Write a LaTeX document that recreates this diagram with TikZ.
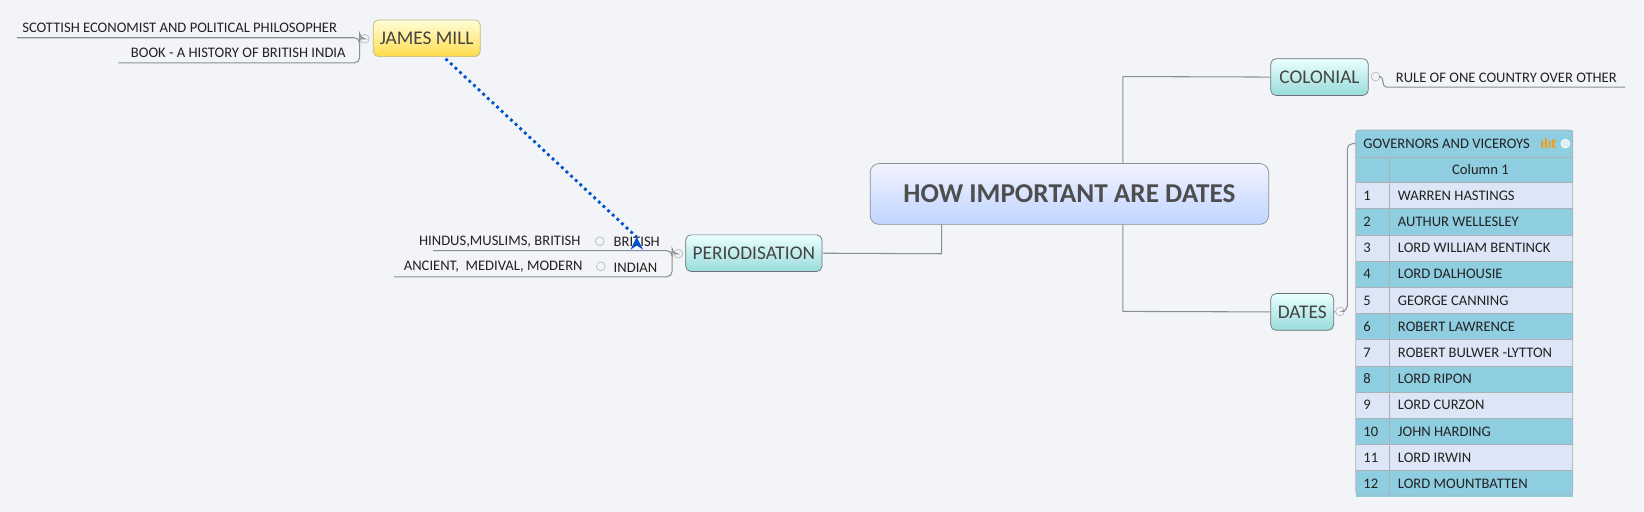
\documentclass[tikz,border=0pt]{standalone}
\usepackage{fontspec}
\setmainfont{Carlito}
\usetikzlibrary{arrows.meta}
\definecolor{bg}{HTML}{F2F4F7}
\definecolor{ln}{HTML}{8A8F95}
\definecolor{tx}{HTML}{222222}
\definecolor{rowa}{HTML}{DDE6F6}
\definecolor{rowb}{HTML}{8FCDE0}
\begin{document}
\begin{tikzpicture}[x=0.02097cm,y=-0.02097cm,
  topic/.style={draw=ln!80!black,rounded corners=3pt,inner sep=0pt,font=\fontsize{11}{12}\selectfont,text=tx!85},
  blue/.style={topic,top color=cyan!8!white,bottom color=cyan!30!teal!40!white},
  sm/.style={font=\fontsize{8.3}{9}\selectfont,text=tx,inner sep=0pt},
  con/.style={draw=ln,line width=0.6pt},
  dot/.style={draw=ln!60,fill=bg,line width=0.4pt,circle,inner sep=0pt,minimum size=5pt}]
\fill[bg] (0,0) rectangle (1568,488);
\useasboundingbox (0,0) rectangle (1568,488);
% central
\node[topic,top color=blue!5!white,bottom color=cyan!35!blue!25!white,draw=ln,rounded corners=5pt,minimum width=380*0.02097cm,minimum height=58*0.02097cm,font=\fontsize{15.5}{17}\bfseries\selectfont,text=tx!80] (c) at (1020,185) {HOW IMPORTANT ARE DATES};
% colonial
\node[blue,minimum width=93*0.02097cm,minimum height=35*0.02097cm] (col) at (1258.5,73.5) {COLONIAL};
\draw[con] (1071,156) -- (1071,73) -- (col.west);
\node[dot] (d1) at (1312,73) {};
\node[sm,anchor=south west] (rule) at (1331,79) {RULE OF ONE COUNTRY OVER OTHER};
\draw[con] (d1) -- (1316,73) to[out=0,in=180] (1322,83) -- (1550,83);
% dates
\node[blue,minimum width=60*0.02097cm,minimum height=35*0.02097cm] (dat) at (1242,297.5) {DATES};
\draw[con] (1071,214) -- (1071,297) -- (dat.west);
\node[dot] (d2) at (1278,297) {};
\draw[con] (dat.east) -- (d2);
\draw[con,rounded corners=3pt] (d2) -- (1285,297) -- (1285,137) -- (1293,137);
% table
\fill[rowb] (1293,124) rectangle (1500,150);
\draw[draw=ln!70,rounded corners=2pt,fill=rowb] (1293,150) -- (1293,124) -- (1500,124) -- (1500,150);
\node[sm,anchor=west] (th) at (1300,137) {GOVERNORS AND VICEROYS};
\node[sm,text=orange!80!yellow,anchor=west] (ic) at (1469,137) {\bfseries ılıt};
\node[dot,draw=white,fill=white!70!rowb] (d3) at (1493,137) {};
\fill[rowb] (1293,150) rectangle (1500,174);
\node[sm] (col1) at (1412,162) {Column 1};
\foreach \i/\t in {1/WARREN HASTINGS,2/AUTHUR WELLESLEY,3/LORD WILLIAM BENTINCK,4/LORD DALHOUSIE,5/GEORGE CANNING,6/ROBERT LAWRENCE,7/ROBERT BULWER -LYTTON,8/LORD RIPON,9/LORD CURZON,10/JOHN HARDING,11/LORD IRWIN,12/LORD MOUNTBATTEN}{
  \pgfmathsetmacro\yy{174+25*(\i-1)}
  \pgfmathtruncatemacro\od{mod(\i,2)}
  \ifnum\od=1 \fill[rowa] (1293,\yy) rectangle (1500,\yy+25); \else \fill[rowb] (1293,\yy) rectangle (1500,\yy+25); \fi
  \draw[ln!70,line width=0.4pt] (1293,\yy) -- (1500,\yy);
  \node[sm,anchor=west] (n\i) at (1300,\yy+12.5) {\i};
  \node[sm,anchor=west] (t\i) at (1333,\yy+12.5) {\t};
}
\draw[ln!70,line width=0.4pt] (1293,150) -- (1500,150) (1325,150) -- (1325,472);
\draw[draw=ln!70,rounded corners=2pt] (1293,150) -- (1293,472) -- (1500,472) -- (1500,150);
% periodisation
\node[blue,minimum width=130*0.02097cm,minimum height=35*0.02097cm] (per) at (719,241.5) {PERIODISATION};
\draw[con] (898,214) -- (898,242) -- (per.east);
\node[dot] (d4) at (647,242) {};
\node[sm,anchor=south west] (bri) at (585,236) {BRITISH};
\node[sm,anchor=south west] (ind) at (585,260) {INDIAN};
\node[dot] (d5) at (572,230) {};
\node[dot] (d6) at (573,254) {};
\node[sm,anchor=south east] (hin) at (554,236) {HINDUS,MUSLIMS, BRITISH};
\node[sm,anchor=south east] (anc) at (556,260) {ANCIENT,\ \ MEDIVAL, MODERN};
\draw[con,rounded corners=3pt] (d4) -- (641,242) -- (641,239) -- (413,239);
\draw[con,rounded corners=3pt] (641,242) -- (641,264) -- (376,264);
% james mill
\node[topic,top color=yellow!15!white,bottom color=yellow!60!orange!70!white,draw=yellow!50!black!60,minimum width=102*0.02097cm,minimum height=35*0.02097cm] (jm) at (407,36.5) {JAMES MILL};
\node[dot] (d7) at (348,37) {};
\node[sm,anchor=south west] (sc) at (21,31) {SCOTTISH ECONOMIST AND POLITICAL PHILOSOPHER};
\node[sm,anchor=south east] (bk) at (330,55) {BOOK - A HISTORY OF BRITISH INDIA};
\draw[con,rounded corners=3pt] (d7) -- (343,37) -- (343,36) -- (16,36);
\draw[con,rounded corners=3pt] (343,37) -- (343,60) -- (113,60);
\draw[draw=blue!60!cyan!80!black,line width=1.6pt,dotted,-{Stealth[length=7pt,width=7pt]}] (425,56) -- (bri.north) ++(0,0);
\end{tikzpicture}
\end{document}
